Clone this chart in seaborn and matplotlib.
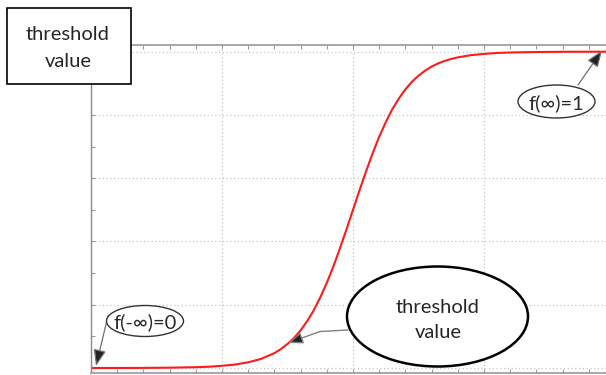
import matplotlib
matplotlib.use("Agg")
import matplotlib.pyplot as plt
import seaborn as sns
from matplotlib.patches import Ellipse, Rectangle
from matplotlib.lines import Line2D
from matplotlib.ticker import MultipleLocator

# values
x_vals = [-10, -9, -8, -7, -6, -5.5, -5, -4.5, -4, -3.5, -3, -2.75, -2.5, -2.25, -2,
          -1.75, -1.5, -1.25, -1, -0.75, -0.5, -0.25, 0, 0.25, 0.5, 0.75, 1, 1.25,
          1.5, 1.75, 2, 2.25, 2.5, 2.75, 3, 3.25, 3.5, 3.75, 4, 4.5, 5, 5.5, 6, 7,
          8, 9, 10]
f_vals = [0.0, 0.0001, 0.0003, 0.001, 0.0025, 0.004, 0.007, 0.011, 0.018, 0.029,
          0.047, 0.060, 0.076, 0.095, 0.119, 0.148, 0.182, 0.223, 0.269, 0.321,
          0.378, 0.438, 0.5, 0.562, 0.622, 0.679, 0.731, 0.777, 0.818, 0.852, 0.881,
          0.905, 0.924, 0.940, 0.953, 0.963, 0.971, 0.977, 0.982, 0.989, 0.993,
          0.996, 0.9975, 0.999, 0.9997, 0.9999, 1.0]

box_label = ["threshold", "value"]
low_label = "f(-\u221e)=0"
high_label = "f(\u221e)=1"

sns.set_style("white")
plt.rcParams['font.family'] = ['Lato', 'DejaVu Sans']

W, H = 606, 375
fig = plt.figure(figsize=(W / 100, H / 100), dpi=100)


def fp(x, y):
    # image pixel (top-left origin) -> figure fraction
    return x / W, 1 - y / H


# axes runs past the right edge of the picture, like the cropped original
ax = fig.add_axes([91 / W, 2 / H, (615 - 91) / W, (373 - 45) / H])
sns.lineplot(x=x_vals, y=f_vals, color='#ff1a1a', linewidth=1.5, ax=ax)
ax.set_xlim(-10, 10)
ax.set_ylim(-5 / 316.3, 1 + 6.7 / 316.3)

ax.xaxis.set_major_locator(MultipleLocator(5))
ax.xaxis.set_minor_locator(MultipleLocator(1))
ax.yaxis.set_major_locator(MultipleLocator(0.2))
ax.yaxis.set_minor_locator(MultipleLocator(0.1))
ax.tick_params(which='both', direction='in', length=3, width=0.8, color='#999999',
               top=True, bottom=True, left=True, right=True,
               labelbottom=False, labelleft=False)
ax.grid(True, which='major', linestyle=(0, (1, 2)), color='#c4c4c4', linewidth=0.9)
ax.set_xlabel("")
ax.set_ylabel("")
for name, sp in ax.spines.items():
    sp.set_color('#a0a0a0')
    sp.set_linewidth(1.3)
ax.spines['left'].set_color('#8a8a8a')
ax.spines['left'].set_linewidth(1.0)

# box in the top-left corner
x0, y0 = fp(7, 84)
fig.add_artist(Rectangle((x0, y0), 124 / W, 76 / H, transform=fig.transFigure,
                         facecolor='white', edgecolor='black', linewidth=1.2, zorder=5))
fig.text(*fp(68, 40), box_label[0], ha='center', va='baseline', fontsize=14.5, zorder=6)
fig.text(*fp(68, 66.7), box_label[1], ha='center', va='baseline', fontsize=14.5, zorder=6)

# big ellipse with its bent pointer
fig.add_artist(Line2D([348 / W, 320 / W], [1 - 330 / H, 1 - 331.5 / H],
                      transform=fig.transFigure, color='#808080', linewidth=1.0))
ax.annotate("", xy=(288, H - 343), xycoords='figure pixels',
            xytext=(320, H - 331.5), textcoords='figure pixels',
            arrowprops=dict(arrowstyle='-|>,head_length=0.9,head_width=0.35',
                            mutation_scale=10, ec='#808080', fc='#222222',
                            lw=1.0, shrinkA=0, shrinkB=0))
fig.add_artist(Ellipse(fp(437.5, 316.5), 181 / W, 100 / H, transform=fig.transFigure,
                       facecolor='white', edgecolor='black', linewidth=1.8, zorder=5))
fig.text(*fp(438, 313), box_label[0], ha='center', va='baseline', fontsize=14.5, zorder=6)
fig.text(*fp(438, 338), box_label[1], ha='center', va='baseline', fontsize=14.5, zorder=6)

# f(-inf) bubble
ax.annotate("", xy=(96, H - 366), xycoords='figure pixels',
            xytext=(108, H - 316), textcoords='figure pixels',
            arrowprops=dict(arrowstyle='-|>,head_length=1.0,head_width=0.38',
                            mutation_scale=10, ec='#707070', fc='#222222',
                            lw=0.9, shrinkA=0, shrinkB=0))
fig.add_artist(Ellipse(fp(145, 321), 77 / W, 31 / H, transform=fig.transFigure,
                       facecolor='white', edgecolor='#333333', linewidth=1.0, zorder=5))
fig.text(*fp(145, 328), low_label, ha='center', va='baseline', fontsize=14.5,
         color='#2a2a2a', zorder=6)

# f(inf) bubble
ax.annotate("", xy=(602, H - 50.5), xycoords='figure pixels',
            xytext=(578, H - 85), textcoords='figure pixels',
            arrowprops=dict(arrowstyle='-|>,head_length=1.0,head_width=0.38',
                            mutation_scale=10, ec='#707070', fc='#222222',
                            lw=0.9, shrinkA=0, shrinkB=0))
fig.add_artist(Ellipse(fp(556.5, 101.5), 77 / W, 33 / H, transform=fig.transFigure,
                       facecolor='white', edgecolor='#333333', linewidth=1.0, zorder=5))
fig.text(*fp(556, 109), high_label, ha='center', va='baseline', fontsize=14.5,
         color='#2a2a2a', zorder=6)

plt.savefig("out.png", dpi=100)
